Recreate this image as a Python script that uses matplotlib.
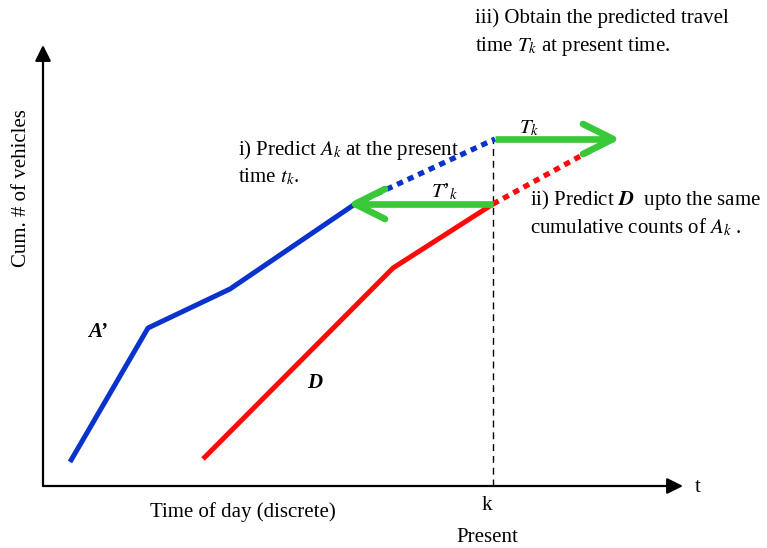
import numpy as np
import matplotlib
matplotlib.use('Agg')
import matplotlib.pyplot as plt

plt.rcParams['font.family'] = ['Liberation Serif', 'DejaVu Serif']
plt.rcParams['mathtext.fontset'] = 'stix'

# cumulative curves (x: time of day, y: cumulative count)
a_x = [27, 105, 187, 312]
a_y = [24, 158, 197, 282]
a_pred_x = [312, 452]
a_pred_y = [282, 347]

d_x = [160, 350, 450]
d_y = [27, 218, 282]
d_pred_x = [450, 554]
d_pred_y = [282, 339]

present_k = 450
t_k = [452, 570, 347]       # start, end, level
t_prime_k = [450, 312, 282]

blue = '#0a32cc'
red = '#ff0a0a'
green = '#38c838'

W, H = 767, 548
x0, y0 = 43, 486
fig = plt.figure(figsize=(W / 100, H / 100), dpi=100)
ax = fig.add_axes([x0 / W, (H - y0) / H, (W - x0) / W, y0 / H])
ax.set_xlim(0, W - x0)
ax.set_ylim(0, y0)
ax.axis('off')

# axes with arrows
arrow = dict(arrowstyle='-|>', color='black', lw=1.6, mutation_scale=24, shrinkA=0, shrinkB=0)
ax.annotate('', xy=(640, 0), xytext=(0, 0), arrowprops=arrow, annotation_clip=False)
ax.annotate('', xy=(0, 441), xytext=(0, 0), arrowprops=arrow, annotation_clip=False)

# present time
ax.plot([present_k, present_k], [0, t_k[2]], color='black', lw=1, ls=(0, (5, 3.5)))

ax.plot(a_x, a_y, color=blue, lw=3.6, solid_capstyle='butt')
ax.plot(a_pred_x, a_pred_y, color=blue, lw=3.8, ls=(0, (1.2, 1.0)), dash_capstyle='butt')
ax.plot(d_x, d_y, color=red, lw=3.6, solid_capstyle='butt')
ax.plot(d_pred_x, d_pred_y, color=red, lw=3.8, ls=(0, (1.2, 1.0)), dash_capstyle='butt')


def green_arrow(x_start, x_end, y):
    ax.plot([x_start, x_end], [y, y], color=green, lw=4.8, solid_capstyle='butt')
    s = np.sign(x_end - x_start)
    hx = x_end - s * 30
    ax.plot([hx, x_end, hx], [y + 15, y, y - 15], color=green, lw=4.8,
            solid_capstyle='round', solid_joinstyle='round')


green_arrow(*t_k)
green_arrow(*t_prime_k)

fs = 15
txt = dict(fontsize=fs, va='baseline', ha='left', clip_on=False)
ax.text(475 - x0, y0 - 23, 'iii) Obtain the predicted travel', **txt)
ax.text(475 - x0, y0 - 51, 'time $T_k$ at present time.', **txt)
ax.text(238 - x0, y0 - 155, 'i) Predict $A_k$ at the present', **txt)
ax.text(238 - x0, y0 - 182, 'time $t_k$.', **txt)
ax.text(530 - x0, y0 - 205, 'ii) Predict $\\boldsymbol{D}$  upto the same', **txt)
ax.text(530 - x0, y0 - 233, 'cumulative counts of $A_k$ .', **txt)
ax.text(519 - x0, y0 - 133, '$T_k$', **txt)
ax.text(431 - x0, y0 - 197, "$T$\u2019$_k$", **txt)
ax.text(88 - x0, y0 - 337, "A\u2019", fontsize=fs, fontweight='bold', fontstyle='italic',
        va='baseline', ha='left')
ax.text(307 - x0, y0 - 388, 'D', fontsize=fs, fontweight='bold', fontstyle='italic',
        va='baseline', ha='left')

ax.text(243 - x0, y0 - 517, 'Time of day (discrete)', fontsize=fs, va='baseline', ha='center', clip_on=False)
ax.text(present_k - 6, y0 - 510, 'k', fontsize=fs, va='baseline', ha='center', clip_on=False)
ax.text(487 - x0, y0 - 542, 'Present', fontsize=fs, va='baseline', ha='center', clip_on=False)
ax.text(695 - x0, y0 - 492, 't', fontsize=fs, va='baseline', ha='left', clip_on=False)
ax.text(22 - x0, y0 - 188, 'Cum. # of vehicles', fontsize=fs, rotation=90, va='center', ha='center',
        clip_on=False)

fig.savefig('out.png', dpi=100)
